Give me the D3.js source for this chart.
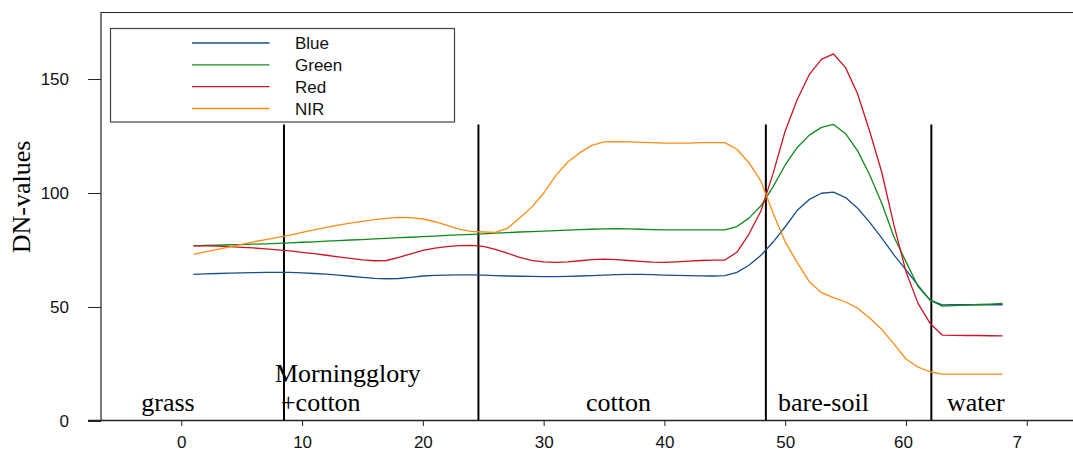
<!DOCTYPE html>
<html>
<head>
<meta charset="utf-8">
<script src="https://cdn.jsdelivr.net/npm/d3@7"></script>
<style>
  body { margin: 0; background: #fff; }
  svg { display: block; }
</style>
</head>
<body>
<div class="chart"></div>
<script>
// band values along the transect, pixel 1..68
const blue = [64.3, 64.5, 64.7, 64.9, 65.0, 65.1, 65.2, 65.2, 65.2, 65.0,
  64.7, 64.4, 64.0, 63.5, 63.0, 62.6, 62.4, 62.5, 63.0, 63.6,
  63.9, 64.0, 64.1, 64.1, 64.0, 63.8, 63.6, 63.5, 63.4, 63.3,
  63.3, 63.4, 63.6, 63.8, 64.0, 64.2, 64.3, 64.3, 64.2, 64.0,
  63.9, 63.8, 63.7, 63.6, 63.8, 65.2, 68.3, 72.7, 78.5, 85.2,
  92.4, 97.2, 99.9, 100.4, 98.0, 93.3, 87.1, 80.2, 72.9, 66.3,
  59.5, 53.0, 50.9, 51.0, 51.0, 51.0, 51.0, 51.0];
const green = [76.8, 77.0, 77.1, 77.3, 77.4, 77.6, 77.7, 77.9, 78.1, 78.4,
  78.6, 78.9, 79.1, 79.4, 79.6, 79.9, 80.1, 80.4, 80.6, 80.9,
  81.1, 81.4, 81.6, 81.9, 82.1, 82.4, 82.6, 82.9, 83.1, 83.3,
  83.5, 83.7, 83.9, 84.1, 84.3, 84.4, 84.3, 84.1, 83.9, 83.8,
  83.8, 83.8, 83.8, 83.8, 83.8, 85.3, 89.0, 94.4, 102.8, 112.3,
  120.0, 125.4, 128.8, 130.1, 126.0, 118.5, 107.9, 95.4, 80.8, 69.9,
  59.0, 53.0, 50.4, 50.6, 50.8, 51.1, 51.3, 51.6];
const red = [76.8, 76.8, 76.7, 76.5, 76.2, 75.9, 75.5, 75.1, 74.6, 74.0,
  73.4, 72.7, 72.0, 71.3, 70.7, 70.3, 70.4, 71.8, 73.3, 74.8,
  75.8, 76.5, 76.9, 77.0, 76.6, 75.3, 73.6, 71.8, 70.5, 69.8,
  69.6, 69.8, 70.3, 70.8, 71.0, 70.8, 70.4, 70.0, 69.7, 69.6,
  69.8, 70.1, 70.4, 70.6, 70.6, 74.0, 82.0, 92.2, 108.6, 127.2,
  141.0, 152.0, 158.6, 161.0, 155.0, 143.4, 127.0, 109.0, 86.0, 65.5,
  51.6, 42.8, 37.7, 37.6, 37.5, 37.5, 37.4, 37.3];
const nir = [73.1, 74.2, 75.3, 76.4, 77.5, 78.6, 79.6, 80.5, 81.5, 82.7,
  83.8, 84.9, 85.9, 86.8, 87.6, 88.3, 88.9, 89.3, 89.2, 88.6,
  87.4, 85.8, 84.2, 83.2, 82.9, 82.7, 84.5, 89.0, 93.7, 99.9,
  107.6, 113.6, 117.7, 120.9, 122.4, 122.5, 122.4, 122.2, 122.1, 121.9,
  121.9, 121.9, 122.1, 122.1, 122.1, 119.2, 113.3, 105.1, 91.1, 78.6,
  69.5, 61.1, 56.3, 54.1, 52.2, 49.5, 45.2, 40.1, 33.8, 27.2,
  23.6, 21.6, 20.6, 20.6, 20.6, 20.6, 20.6, 20.6];

const seriesNames = ["Blue", "Green", "Red", "NIR"];
const seriesColors = ["#174f90", "#128a1a", "#cc1424", "#ff8b14"];

const xTicks = [0, 10, 20, 30, 40, 50, 60, 70];
const yTicks = [0, 50, 100, 150];

// land cover classes and the borders between them
const classNames = ["grass", "Morningglory", "+cotton", "cotton", "bare-soil", "water"];
const classBorders = [8.5, 24.6, 48.4, 62.1];
const borderTop = 130;

const width = 1073, height = 452;

const svg = d3.select(".chart")
    .append("svg")
    .attr("width", width)
    .attr("height", height);

const x = d3.scaleLinear().domain([-6.65, 73.83]).range([101, 1073]);
const y = d3.scaleLinear().domain([0, 179.4]).range([421, 12]);

// frame lines
svg.append("line")
    .attr("x1", 101).attr("x2", 1073)
    .attr("y1", 12.5).attr("y2", 12.5)
    .attr("stroke", "#222").attr("stroke-width", 1.2);
svg.append("line")
    .attr("x1", 101).attr("x2", 101)
    .attr("y1", 12).attr("y2", 420.5)
    .attr("stroke", "#222").attr("stroke-width", 1.2);
svg.append("line")
    .attr("x1", 88).attr("x2", 1073)
    .attr("y1", 420.5).attr("y2", 420.5)
    .attr("stroke", "#222").attr("stroke-width", 1.5);

// y axis
const gy = svg.append("g")
    .attr("transform", "translate(101,0)")
    .call(d3.axisLeft(y).tickValues(yTicks).tickSize(13).tickPadding(19));
gy.select(".domain").remove();
gy.selectAll("text")
    .attr("font-family", "Liberation Sans, Arial, sans-serif")
    .attr("font-size", 17)
    .attr("fill", "#111");
gy.selectAll("line").attr("stroke", "#222");

// x axis
const gx = svg.append("g")
    .attr("transform", "translate(0,420)")
    .call(d3.axisBottom(x).tickValues(xTicks).tickSize(6).tickPadding(10)
        .tickFormat(d => d === 70 ? "7" : d));
gx.select(".domain").remove();
gx.selectAll("text")
    .attr("font-family", "Liberation Sans, Arial, sans-serif")
    .attr("font-size", 17)
    .attr("fill", "#111")
    .attr("dx", d => d === 70 ? -10 : (d === 60 ? -3 : 0));
gx.selectAll("line").attr("stroke", "#222");

svg.append("text")
    .attr("transform", "translate(29.5,197) rotate(-90)")
    .attr("text-anchor", "middle")
    .attr("font-family", "Liberation Serif, Times New Roman, serif")
    .attr("font-size", 26)
    .text("DN-values");

// class borders
svg.selectAll(".border")
    .data(classBorders)
    .enter().append("line")
    .attr("class", "border")
    .attr("x1", d => x(d)).attr("x2", d => x(d))
    .attr("y1", y(borderTop)).attr("y2", 420)
    .attr("stroke", "#000")
    .attr("stroke-width", 2);

// class labels
const classPos = [
  { at: -1.1, anchor: "middle", base: 411 },
  { at: 7.75, anchor: "start", base: 382 },
  { at: 8.25, anchor: "start", base: 411 },
  { at: 36.2, anchor: "middle", base: 411 },
  { at: 49.4, anchor: "start", base: 411 },
  { at: 63.4, anchor: "start", base: 411 }
];
svg.selectAll(".cls")
    .data(classNames)
    .enter().append("text")
    .attr("class", "cls")
    .attr("x", (d, i) => x(classPos[i].at))
    .attr("y", (d, i) => classPos[i].base)
    .attr("text-anchor", (d, i) => classPos[i].anchor)
    .attr("font-family", "Liberation Serif, Times New Roman, serif")
    .attr("font-size", 26)
    .text(d => d);

// spectral curves
const allSeries = [blue, green, red, nir];
const line = d3.line()
    .x((d, i) => x(i + 1))
    .y(d => y(d));

svg.selectAll(".band")
    .data(allSeries)
    .enter().append("path")
    .attr("class", "band")
    .attr("d", line)
    .attr("fill", "none")
    .attr("stroke", (d, i) => seriesColors[i])
    .attr("stroke-width", 1.3)
    .attr("stroke-linejoin", "round");

// legend
const lg = svg.append("g");
lg.append("rect")
    .attr("x", 110.5).attr("y", 28.5)
    .attr("width", 344).attr("height", 93.5)
    .attr("fill", "#fff")
    .attr("stroke", "#444")
    .attr("stroke-width", 1.2);

const rowY = d3.scalePoint().domain(seriesNames).range([43, 108.5]);
lg.selectAll(".lgline")
    .data(seriesNames)
    .enter().append("line")
    .attr("x1", 192).attr("x2", 269.5)
    .attr("y1", d => rowY(d)).attr("y2", d => rowY(d))
    .attr("stroke", (d, i) => seriesColors[i])
    .attr("stroke-width", 1.3);
lg.selectAll(".lgtext")
    .data(seriesNames)
    .enter().append("text")
    .attr("x", 295)
    .attr("y", d => rowY(d) + 6.3)
    .attr("font-family", "Liberation Sans, Arial, sans-serif")
    .attr("font-size", 17)
    .attr("fill", "#111")
    .text(d => d);
</script>
</body>
</html>
